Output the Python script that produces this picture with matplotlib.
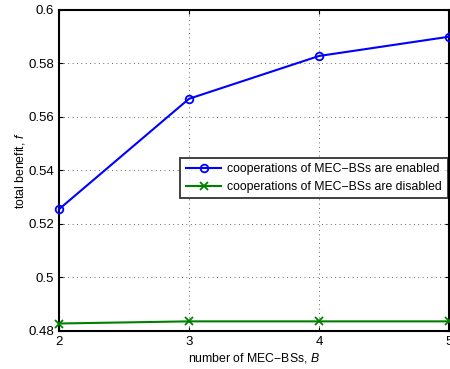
import matplotlib
matplotlib.use("Agg")
import matplotlib.pyplot as plt

plt.rcParams["font.family"] = ["Liberation Sans", "DejaVu Sans"]
plt.rcParams["mathtext.fontset"] = "custom"
plt.rcParams["mathtext.it"] = "Liberation Sans:italic"

num_bs = [2, 3, 4, 5]
benefit_enabled = [0.5255, 0.5668, 0.5828, 0.5900]
benefit_disabled = [0.4828, 0.4836, 0.4836, 0.4836]

fig = plt.figure(figsize=(4.5, 3.69), dpi=100)
ax = fig.add_axes([0.131, 0.103, 0.867, 0.870])

ax.plot(num_bs, benefit_enabled, color="#0000ff", lw=1.5, marker="o",
        ms=5.5, mfc="none", mew=1.3, label="cooperations of MEC\u2212BSs are enabled",
        clip_on=False, zorder=3)
ax.plot(num_bs, benefit_disabled, color="#008000", lw=1.5, marker="x",
        ms=5.5, mew=1.3, label="cooperations of MEC\u2212BSs are disabled",
        clip_on=False, zorder=3)

ax.set_xlim(2, 5)
ax.set_ylim(0.48, 0.6)
ax.set_xticks([2, 3, 4, 5])
ax.set_yticks([0.48, 0.5, 0.52, 0.54, 0.56, 0.58, 0.6])
ax.set_yticklabels(["0.48", "0.5", "0.52", "0.54", "0.56", "0.58", "0.6"])
ax.tick_params(direction="in", top=True, right=True, labelsize=9.5, length=3, width=0.8)
ax.grid(True, color="#666666", linestyle=(0, (1, 3.5)), linewidth=0.7)
for s in ax.spines.values():
    s.set_linewidth(1.5)

ax.set_xlabel("number of MEC\u2212BSs, $B$", fontsize=8.8, labelpad=2)
ax.set_ylabel("total benefit, $f$", fontsize=8.8, labelpad=1)

leg = ax.legend(loc="upper left", bbox_to_anchor=(0.311, 0.539), fontsize=8.8,
                frameon=True, fancybox=False, edgecolor="black",
                borderpad=0.45, handlelength=2.9, handletextpad=0.5,
                labelspacing=0.45, borderaxespad=0)
leg.get_frame().set_linewidth(1.3)

fig.savefig("out.png", dpi=100)
